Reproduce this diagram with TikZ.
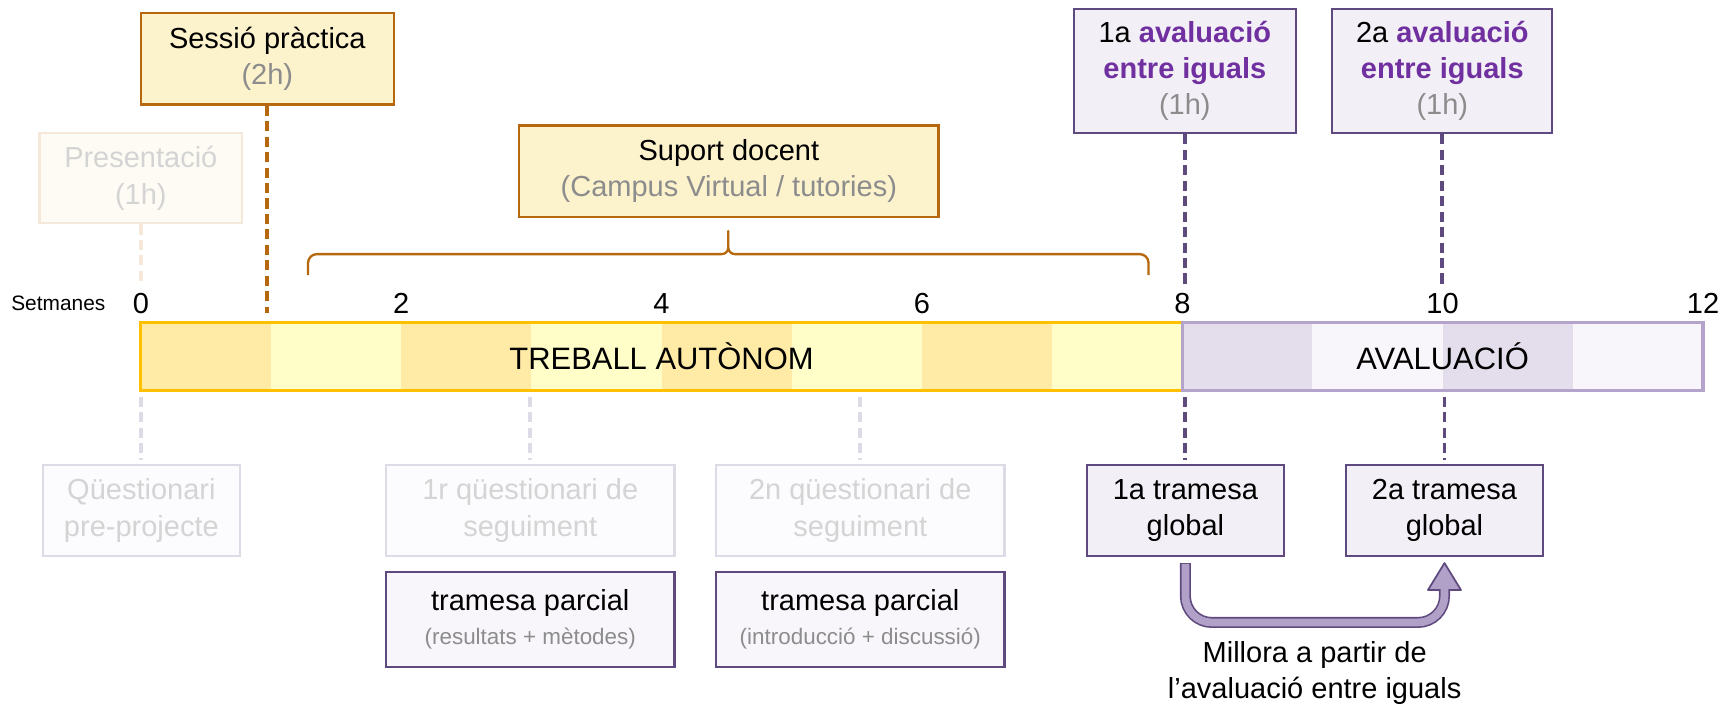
\documentclass[tikz,border=0pt]{standalone}
\usepackage{fontspec}
\setmainfont{Liberation Sans}
\usetikzlibrary{arrows.meta}

\definecolor{ylwline}{HTML}{FFC000}
\definecolor{ylwdark}{HTML}{FFEBA6}
\definecolor{ylwlight}{HTML}{FFFDC8}
\definecolor{prpline}{HTML}{B4A3CB}
\definecolor{prpdark}{HTML}{E4DEEC}
\definecolor{prplight}{HTML}{F8F6FA}
\definecolor{brn}{HTML}{B5680E}
\definecolor{boxylw}{HTML}{FCF2CC}
\definecolor{dkprp}{HTML}{5E4A7E}
\definecolor{boxprp}{HTML}{F2F0F6}
\definecolor{boxprpb}{HTML}{F8F6FB}
\definecolor{txtprp}{HTML}{7030A0}
\definecolor{txtgry}{HTML}{8C8C8C}
\definecolor{fadetxt}{HTML}{D4D4D4}
\definecolor{fadeln}{HTML}{DFDBE6}
\definecolor{fadebox}{HTML}{FCFBFD}
\definecolor{fadebrn}{HTML}{F4E8DA}
\definecolor{fadeylw}{HTML}{FEFBF4}
\definecolor{arrfill}{HTML}{B1A0C7}

\newcommand{\txtmain}{\fontsize{7.5}{9.4}\selectfont}
\newcommand{\txtsmall}{\fontsize{5.8}{7}\selectfont}
\newcommand{\txtbar}{\fontsize{8}{9.6}\selectfont}
\newcommand{\txtweek}{\fontsize{5.4}{6.5}\selectfont}

\begin{document}
\begin{tikzpicture}[
 box/.style={draw,line width=0.6pt,align=center,inner sep=0pt,font=\txtmain},
 ybox/.style={box,draw=brn,fill=boxylw,minimum height=0.83cm},
 pbox/.style={box,draw=dkprp,fill=boxprp},
 fbox/.style={box,draw=fadeln,fill=fadebox,text=fadetxt,minimum height=0.825cm},
 bar/.style={draw,line width=0.85pt,inner sep=0pt,minimum height=0.62cm,font=\txtbar},
 wk/.style={inner sep=0pt,font=\txtmain},
 dsh/.style={line width=1pt,dash pattern=on 2.6pt off 1.4pt}]
\useasboundingbox (0,0) rectangle (15.68,-6.42);
\fill[ylwlight] (1.28,-2.93) rectangle (10.747,-3.55);
\fill[ylwdark] (1.28,-2.93) rectangle (2.463,-3.55);
\fill[ylwdark] (3.647,-2.93) rectangle (4.83,-3.55);
\fill[ylwdark] (6.013,-2.93) rectangle (7.197,-3.55);
\fill[ylwdark] (8.38,-2.93) rectangle (9.563,-3.55);
\fill[prplight] (10.747,-2.93) rectangle (15.48,-3.55);
\fill[prpdark] (10.747,-2.93) rectangle (11.93,-3.55);
\fill[prpdark] (13.113,-2.93) rectangle (14.297,-3.55);
\node[bar,draw=ylwline,minimum width=9.467cm] (tb) at (6.013,-3.24) {TREBALL AUTÒNOM};
\node[bar,draw=prpline,minimum width=4.733cm] (ev) at (13.113,-3.24) {AVALUACIÓ};
\node[wk,font=\txtweek] (set) at (0.53,-2.76) {Setmanes};
\node[wk] (t0) at (1.28,-2.76) {0};
\node[wk] (t2) at (3.647,-2.76) {2};
\node[wk] (t4) at (6.013,-2.76) {4};
\node[wk] (t6) at (8.38,-2.76) {6};
\node[wk] (t8) at (10.747,-2.76) {8};
\node[wk] (t10) at (13.113,-2.76) {10};
\node[wk] (t12) at (15.48,-2.76) {12};
\node[box,draw=fadebrn,fill=fadeylw,text=fadetxt,minimum width=1.84cm,minimum height=0.82cm] (pres) at (1.28,-1.62) {Presentació\\(1h)};
\node[ybox,minimum width=2.30cm] (ses) at (2.43,-0.535) {Sessió pràctica\\{\color{txtgry}(2h)}};
\node[ybox,minimum width=3.81cm] (sup) at (6.625,-1.555) {Suport docent\\{\color{txtgry}(Campus Virtual / tutories)}};
\node[pbox,minimum width=2.02cm,minimum height=1.13cm] (av1) at (10.77,-0.645) {1a \textbf{\color{txtprp}avaluació}\\\textbf{\color{txtprp}entre iguals}\\{\color{txtgry}(1h)}};
\node[pbox,minimum width=2.00cm,minimum height=1.13cm] (av2) at (13.11,-0.645) {2a \textbf{\color{txtprp}avaluació}\\\textbf{\color{txtprp}entre iguals}\\{\color{txtgry}(1h)}};
\node[fbox,minimum width=1.79cm] (q0) at (1.285,-4.64) {Qüestionari\\pre-projecte};
\node[fbox,minimum width=2.62cm] (q1) at (4.82,-4.64) {1r qüestionari de\\seguiment};
\node[fbox,minimum width=2.62cm] (q2) at (7.82,-4.64) {2n qüestionari de\\seguiment};
\node[pbox,fill=boxprpb,minimum width=2.62cm,minimum height=0.86cm] (tp1) at (4.82,-5.63) {tramesa parcial\\[-0.5pt]{\txtsmall\color{txtgry}(resultats + mètodes)}};
\node[pbox,fill=boxprpb,minimum width=2.62cm,minimum height=0.86cm] (tp2) at (7.82,-5.63) {tramesa parcial\\[-0.5pt]{\txtsmall\color{txtgry}(introducció + discussió)}};
\node[pbox,minimum width=1.79cm,minimum height=0.825cm] (tg1) at (10.775,-4.64) {1a tramesa\\global};
\node[pbox,minimum width=1.79cm,minimum height=0.825cm] (tg2) at (13.13,-4.64) {2a tramesa\\global};
\node[wk,align=center] (mil) at (11.95,-6.12) {Millora a partir de\\l’avaluació entre iguals};
\draw[dsh,draw=fadebrn,shorten >=0.08cm] (pres.south) -- (t0.north);
\draw[dsh,draw=brn,shorten >=0.07cm] (ses.south) -- (ses.south |- tb.north);
\draw[dsh,draw=dkprp,shorten >=0.07cm] (av1.south) -- (av1.south |- t8.north);
\draw[dsh,draw=dkprp,shorten >=0.07cm] (av2.south) -- (av2.south |- t10.north);
\draw[dsh,draw=fadeln,shorten <=0.04cm,shorten >=0.04cm] (q0.north |- tb.south) -- (q0.north);
\draw[dsh,draw=fadeln,shorten <=0.04cm,shorten >=0.04cm] (q1.north |- tb.south) -- (q1.north);
\draw[dsh,draw=fadeln,shorten <=0.04cm,shorten >=0.04cm] (q2.north |- tb.south) -- (q2.north);
\draw[dsh,draw=dkprp,shorten <=0.04cm,shorten >=0.04cm] (tg1.north |- ev.south) -- (tg1.north);
\draw[dsh,draw=dkprp,shorten <=0.04cm,shorten >=0.04cm] (tg2.north |- ev.south) -- (tg2.north);
\draw[brn,line width=0.6pt,line join=round] (2.80,-2.50) -- (2.80,-2.39) arc[start angle=180,end angle=90,radius=0.08] -- (6.56,-2.31) arc[start angle=-90,end angle=0,radius=0.06] -- (6.62,-2.10) -- (6.62,-2.25) arc[start angle=180,end angle=270,radius=0.06] -- (10.36,-2.31) arc[start angle=90,end angle=0,radius=0.08] -- (10.44,-2.50);
\draw[line width=2.85pt,draw=dkprp,rounded corners=0.24cm] ([yshift=-0.055cm]tg1.south) -- ++(0,-0.54) -| ([yshift=-0.29cm]tg2.south);
\filldraw[line width=0.45pt,draw=dkprp,fill=arrfill,line join=round] ([xshift=-0.15cm,yshift=-0.30cm]tg2.south) -- ([yshift=-0.055cm]tg2.south) -- ([xshift=0.15cm,yshift=-0.30cm]tg2.south) -- cycle;
\draw[line width=2pt,draw=arrfill,rounded corners=0.24cm] ([yshift=-0.063cm]tg1.south) -- ++(0,-0.532) -| ([yshift=-0.28cm]tg2.south);
\end{tikzpicture}
\end{document}
